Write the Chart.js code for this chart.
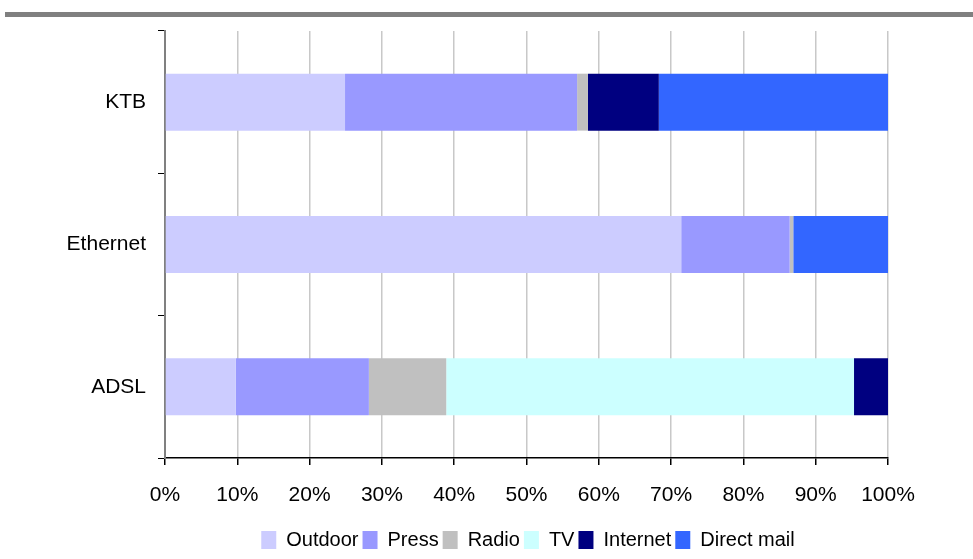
<!DOCTYPE html>
<html>
  <head>
    <meta charset="utf-8" />
    <title>Media mix</title>
    <style>
      html, body { margin: 0; padding: 0; background: #fff; }
      #wrap { position: relative; width: 973px; height: 559px; }
      #topline { position: absolute; left: 5px; top: 12px; width: 968px; height: 5px; background: #808080; }
    </style>
  </head>
  <body>
    <div id="wrap">
      <div id="topline"></div>
      <canvas id="chart" width="973" height="559"></canvas>
    </div>

    <script src="https://cdn.jsdelivr.net/npm/chart.js"></script>
    <script>
      // categories (top to bottom)
      var categories = ["KTB", "Ethernet", "ADSL"];
      // share of each medium, in %
      var outdoor    = [24.9, 71.4, 9.8];
      var press      = [32.1, 15.0, 18.4];
      var radio      = [1.5, 0.5, 10.7];
      var tv         = [0, 0, 56.4];
      var internet   = [9.8, 0, 4.7];
      var directMail = [31.7, 13.1, 0];
      var xTicks = [0, 10, 20, 30, 40, 50, 60, 70, 80, 90, 100];

      var fontName = "'Liberation Sans', Arial, sans-serif";

      var series = [
        { label: "Outdoor", data: outdoor, color: "#ccccff" },
        { label: "Press", data: press, color: "#9999ff" },
        { label: "Radio", data: radio, color: "#c0c0c0" },
        { label: "TV", data: tv, color: "#ccffff" },
        { label: "Internet", data: internet, color: "#000080" },
        { label: "Direct mail", data: directMail, color: "#3366ff" },
      ];

      // legend sits a bit right of the plot centre in the original
      var legendShift = {
        id: "legendShift",
        afterLayout: function (chart) {
          chart.legend.left += 84;
          chart.legend.right += 84;
        },
      };

      var ctx = document.getElementById("chart").getContext("2d");
      var chart = new Chart(ctx, {
        type: "bar",
        data: {
          labels: categories,
          datasets: series.map(function (s) {
            return {
              label: s.label,
              data: s.data,
              backgroundColor: s.color,
              borderWidth: 0,
              barPercentage: 0.4,
              categoryPercentage: 1,
            };
          }),
        },
        plugins: [legendShift],
        options: {
          indexAxis: "y",
          responsive: false,
          animation: false,
          layout: { padding: { top: 31, right: 85, left: 0, bottom: -1 } },
          plugins: {
            tooltip: { enabled: false },
            legend: {
              position: "bottom",
              labels: {
                color: "#000",
                font: { family: fontName, size: 20 },
                boxWidth: 15,
                boxHeight: 18,
                padding: 4,
              },
            },
          },
          scales: {
            x: {
              stacked: true,
              min: 0,
              max: 100,
              afterBuildTicks: function (scale) {
                scale.ticks = xTicks.map(function (v) { return { value: v }; });
              },
              afterFit: function (scale) { scale.height = 68; },
              grid: {
                color: "#c8c8c8",
                lineWidth: 1.5,
                tickColor: "#000",
                tickLength: 7,
              },
              border: { color: "#000", width: 1.5 },
              ticks: {
                color: "#000",
                padding: 18,
                maxRotation: 0,
                font: { family: fontName, size: 21 },
                callback: function (v) { return v + "%"; },
              },
            },
            y: {
              stacked: true,
              afterFit: function (scale) { scale.width = 165; },
              grid: {
                drawOnChartArea: false,
                color: "#000",
                tickLength: 7,
              },
              border: { color: "#808080", width: 2 },
              ticks: {
                color: "#000",
                padding: 12,
                font: { family: fontName, size: 21 },
              },
            },
          },
        },
      });
    </script>
  </body>
</html>
